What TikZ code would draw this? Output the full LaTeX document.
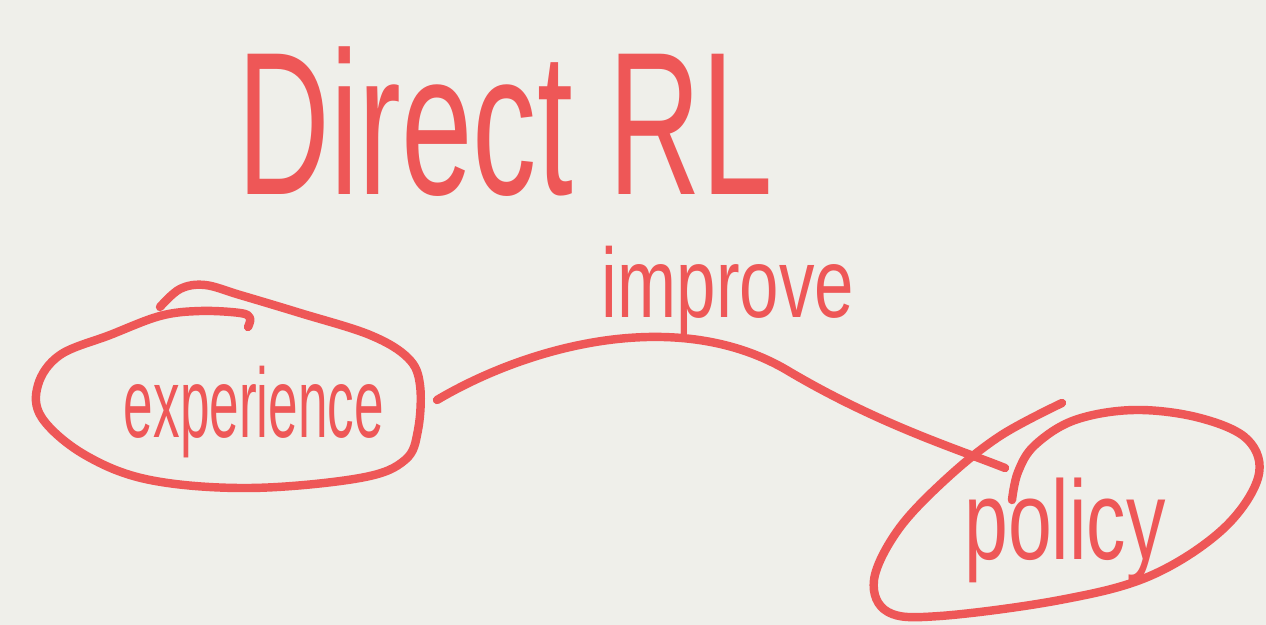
\documentclass[tikz,border=0pt]{standalone}
\usepackage{fontspec}
\setmainfont{Liberation Sans}
\definecolor{bgc}{HTML}{EFEFEA}
\definecolor{ink}{HTML}{EE5757}
\tikzset{
  pen/.style={draw=ink, line width=2.4pt, line cap=round, line join=round},
  hand/.style={text=ink, inner sep=0pt}
}
\begin{document}
\begin{tikzpicture}[x=0.01cm,y=-0.01cm]
\fill[bgc] (0,0) rectangle (1266,625);
\useasboundingbox (0,0) rectangle (1266,625);
% title
\node[hand, font=\fontsize{58}{60}\selectfont, xscale=0.63] (title) at (505,122) {Direct RL};
% left blob (experience)
\draw[pen] plot[smooth, tension=0.6] coordinates {(160,307) (180,289) (205,285) (240,295) (300,313) (370,335) (408,358) (420,385) (418,430) (405,460) (360,478) (250,488) (150,480) (85,455) (42,418) (38,385) (60,355) (110,335) (160,316) (200,311) (240,313) (250,318) (248,327)};
\node[hand, font=\fontsize{28}{30}\selectfont, xscale=0.54] (exp) at (254,412) {experience};
% right blob (policy)
\draw[pen] plot[smooth, tension=0.6] coordinates {(1062,403) (1000,436) (945,480) (898,530) (874,580) (888,612) (940,616) (1060,600) (1150,576) (1222,530) (1258,478) (1248,440) (1200,418) (1135,410) (1075,420) (1035,445) (1018,472) (1012,500)};
\node[hand, font=\fontsize{32}{34}\selectfont, xscale=0.7] (pol) at (1065,530) {policy};
% connector
\coordinate (a) at (437,400);
\coordinate (b) at (1005,468);
\draw[pen] (a) .. controls (530,345) and (680,305) .. (790,372) .. controls (880,425) and (960,450) .. (b);
\node[hand, font=\fontsize{28}{30}\selectfont, xscale=0.72] (imp) at (728,292) {improve};
\end{tikzpicture}
\end{document}
